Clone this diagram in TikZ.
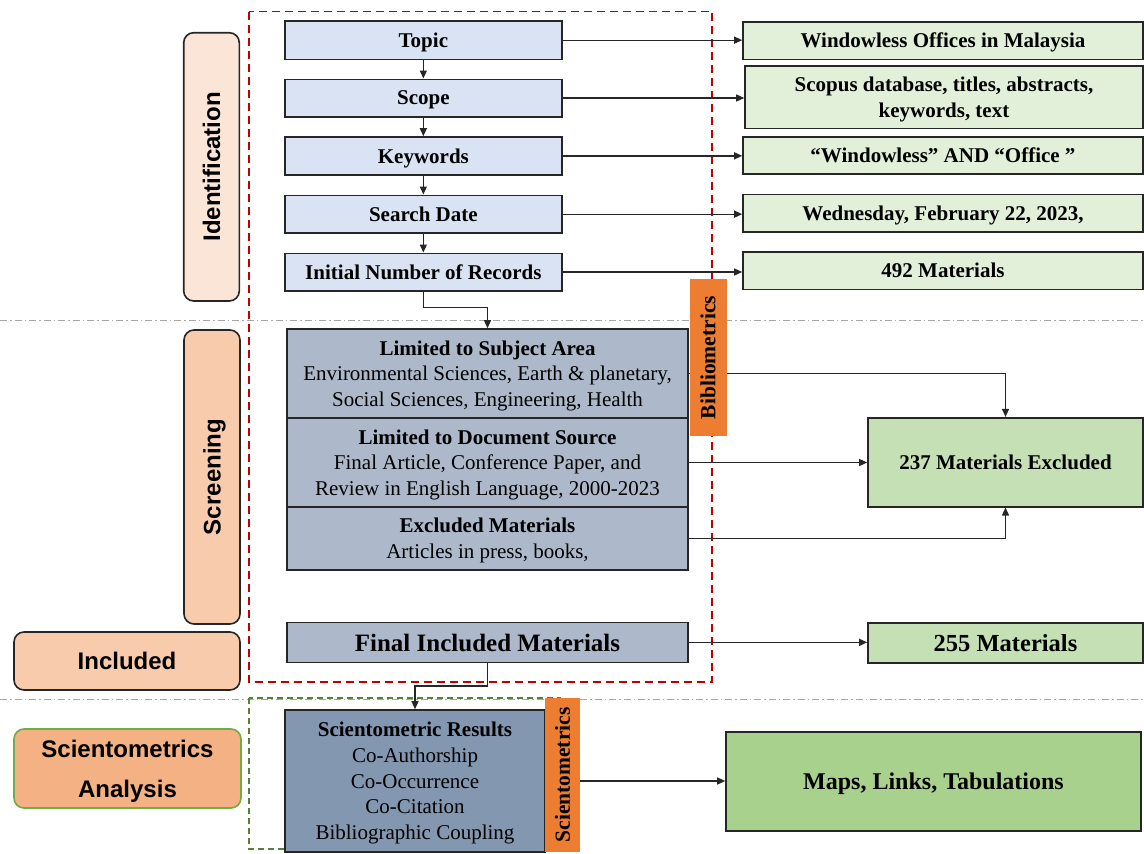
\documentclass[tikz,border=0pt]{standalone}
\usepackage{fontspec}
\setmainfont{Liberation Serif}
\newfontfamily\sansb{Liberation Sans}
\usetikzlibrary{arrows.meta}
\definecolor{bluebox}{HTML}{DAE3F3}
\definecolor{greenbox}{HTML}{E2F0D9}
\definecolor{greybox}{HTML}{ADB9CA}
\definecolor{midgreen}{HTML}{C5E0B4}
\definecolor{darkgreen}{HTML}{A9D18E}
\definecolor{slatebox}{HTML}{8497B0}
\definecolor{orangebar}{HTML}{ED7D31}
\definecolor{peachA}{HTML}{FBE5D6}
\definecolor{peachB}{HTML}{F8CBAD}
\definecolor{peachC}{HTML}{F4B183}
\definecolor{leafline}{HTML}{70AD47}
\definecolor{reddash}{HTML}{C00000}
\definecolor{greendash}{HTML}{548235}
\definecolor{sepgrey}{HTML}{A6A6A6}
\begin{document}
\begin{tikzpicture}[x=1pt,y=-1pt,
  bx/.style={draw=black!85, line width=1.6pt, inner sep=0pt, align=center, text depth=0pt,
    font=\fontsize{21}{25.7}\selectfont\bfseries},
  bluenode/.style={bx, fill=bluebox},
  greennode/.style={bx, fill=greenbox},
  greynode/.style={bx, fill=greybox, font=\fontsize{21}{25.7}\selectfont},
  resnode/.style={bx, fill=midgreen},
  bar/.style={inner sep=0pt, fill=orangebar, rotate=90, align=center, text depth=0pt,
    font=\fontsize{21.5}{25}\selectfont\bfseries},
  phase/.style={draw=black!85, line width=1.6pt, rounded corners=10pt, inner sep=0pt, text depth=0pt,
    align=center, font=\fontsize{24}{40}\selectfont\sansb\bfseries},
  conn/.style={line width=1.3pt, draw=black!85, -{Triangle[length=8pt,width=7pt]}},
  sep/.style={draw=sepgrey, line width=1pt, dash pattern=on 7pt off 3pt on 1.5pt off 3pt}]
\useasboundingbox (0,0) rectangle (1144,854);

% separators and dashed frames
\draw[sep] (0,320) -- (1144,320);
\draw[sep] (0,699) -- (1144,699);
\draw[draw=reddash, line width=1.3pt, dash pattern=on 8pt off 5pt] (249,11.7) rectangle (712,682);
\draw[draw=greendash, line width=1.3pt, dash pattern=on 6pt off 4pt] (249,698) rectangle (560,849);

% phase labels
\node[phase, fill=peachA, rotate=90, minimum width=268.3pt, minimum height=55.6pt] (ident) at (211.5,166.85) {Identification};
\node[phase, fill=peachB, rotate=90, minimum width=294pt, minimum height=56pt] (screen) at (212,477) {Screening};
\node[phase, fill=peachB, minimum width=226pt, minimum height=58pt] (incl) at (127,661) {Included};
\node[phase, fill=peachC, draw=leafline, minimum width=227pt, minimum height=79pt] (scia) at (127.5,768.5) {Scientometrics\\Analysis};

% identification steps
\node[bluenode, minimum width=277.3pt, minimum height=38.3pt] (topic) at (423.35,40.15) {Topic};
\node[bluenode, minimum width=277.3pt, minimum height=37.4pt] (scope) at (423.35,98) {Scope};
\node[bluenode, minimum width=277.3pt, minimum height=37.7pt] (kw) at (423.35,155.85) {Keywords};
\node[bluenode, minimum width=277.3pt, minimum height=37.7pt] (sd) at (423.35,214.15) {Search  Date};
\node[bluenode, minimum width=277.3pt, minimum height=37.4pt] (init) at (423.35,272) {Initial Number of Records};

\node[greennode, minimum width=400pt, minimum height=37.6pt] (g1) at (943,40.5) {Windowless  Offices in Malaysia};
\node[greennode, minimum width=398pt, minimum height=62.6pt] (g2) at (944,97) {Scopus database, titles, abstracts,\\keywords,  text};
\node[greennode, minimum width=400pt, minimum height=37.3pt] (g3) at (943,155.35) {“Windowless”  AND “Office ”};
\node[greennode, minimum width=400pt, minimum height=37.4pt] (g4) at (943,213) {Wednesday,  February  22, 2023,};
\node[greennode, minimum width=400pt, minimum height=37.6pt] (g5) at (943,270.5) {492 Materials};

% screening
\node[greynode, minimum width=401pt, minimum height=89pt] (sa) at (487.5,373.5) {{\bfseries Limited to Subject Area}\\Environmental  Sciences, Earth \& planetary,\\Social  Sciences, Engineering, Health};
\node[greynode, minimum width=401pt, minimum height=89pt] (ds) at (487.5,462.5) {{\bfseries Limited to Document Source}\\Final Article, Conference  Paper, and\\Review in English Language,  2000-2023};
\node[greynode, minimum width=401pt, minimum height=63pt] (ex) at (487.5,538.5) {{\bfseries Excluded  Materials}\\Articles  in press, books,};
\node[resnode, minimum width=275pt, minimum height=89pt] (m237) at (1005.5,462.2) {237 Materials  Excluded};

% included
\node[greynode, minimum width=401pt, minimum height=40pt, font=\fontsize{25}{30}\selectfont\bfseries] (fin) at (487.5,642.35) {Final Included  Materials};
\node[resnode, minimum width=275pt, minimum height=40pt, font=\fontsize{24.5}{29}\selectfont\bfseries] (m255) at (1005.5,642.7) {255 Materials};

% scientometrics
\node[greynode, fill=slatebox, minimum width=260pt, minimum height=142pt] (sr) at (415,781) {{\bfseries Scientometric Results}\\Co-Authorship\\Co-Occurrence\\Co-Citation\\Bibliographic  Coupling};
\node[resnode, fill=darkgreen, minimum width=415pt, minimum height=99.3pt, font=\fontsize{24}{29}\selectfont\bfseries] (maps) at (933.5,781.35) {Maps, Links,  Tabulations};

% connectors
\draw[conn] (topic.south) -- (scope.north);
\draw[conn] (scope.south) -- (kw.north);
\draw[conn] (kw.south) -- (sd.north);
\draw[conn] (sd.south) -- (init.north);
\draw[conn] (topic.east) -- (topic.east -| g1.west);
\draw[conn] (scope.east) -- (scope.east -| g2.west);
\draw[conn] (kw.east) -- (kw.east -| g3.west);
\draw[conn] (sd.east) -- (sd.east -| g4.west);
\draw[conn] (init.east) -- (init.east -| g5.west);
\draw[conn] (init.south) -- ++(0,16.3) -| (sa.north);
\draw[conn] (sa.east) -| (m237.north);
\draw[conn] (ds.east) -- (ds.east -| m237.west);
\draw[conn] (ex.east) -| (m237.south);
\draw[conn] (fin.east) -- (fin.east -| m255.west);
\draw[conn] (fin.south) -- ++(0,22.7) -| (sr.north);
\draw[conn] (sr.east) -- (sr.east -| maps.west);

% side bars
\node[bar, minimum width=157pt, minimum height=37pt] (bib) at (708,357.5) {Bibliometrics};
\node[bar, minimum width=154pt, minimum height=35pt] (sci) at (562.5,775) {Scientometrics};
\end{tikzpicture}
\end{document}
